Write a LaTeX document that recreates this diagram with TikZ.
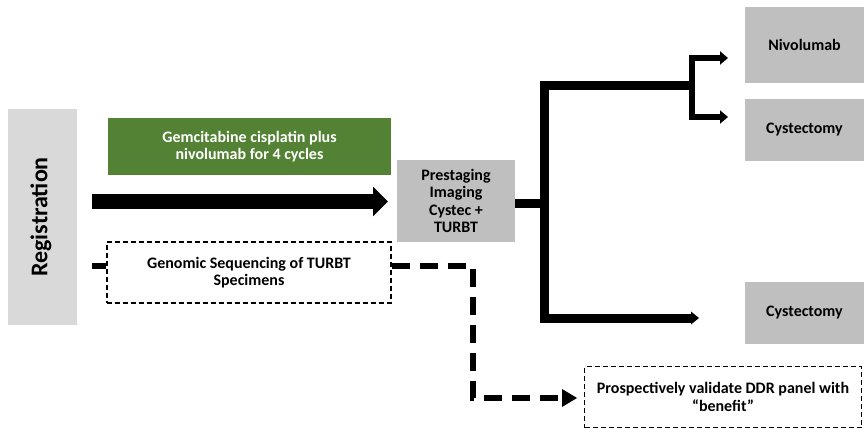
\documentclass[tikz,border=0pt]{standalone}
\usepackage{fontspec}
\setmainfont{Carlito}
\usetikzlibrary{arrows.meta}
\definecolor{regGray}{HTML}{D9D9D9}
\definecolor{boxGray}{HTML}{BFBFBF}
\definecolor{armGreen}{HTML}{548235}
\begin{document}
\begin{tikzpicture}[x=1pt,y=-1pt,
  txt/.style={font=\fontsize{16}{17.5}\selectfont\bfseries, align=center, inner sep=0pt},
  graybox/.style={txt, fill=boxGray, draw=none},
  dashbox/.style={txt, draw=black, line width=1.3pt, dash pattern=on 5pt off 3pt},
  thickline/.style={line width=9pt, line join=miter, line cap=butt},
  forkline/.style={line width=6.5pt, line join=miter, line cap=butt},
  dashedthick/.style={line width=6pt, dash pattern=on 18pt off 10pt, line cap=butt}
]
\useasboundingbox (0,0) rectangle (864,430);
% boxes
\node[txt, fill=regGray, minimum width=69pt, minimum height=216pt] (reg) at (42.5,217) {};
\node[txt, rotate=90, font=\fontsize{24}{26}\selectfont\bfseries] (regtxt) at (41,217) {Registration};
\node[txt, fill=armGreen, text=white, minimum width=283pt, minimum height=57pt] (green) at (249.5,146.5) {Gemcitabine cisplatin plus\\nivolumab for 4 cycles};
\node[graybox, minimum width=118pt, minimum height=82pt] (pre) at (456,201) {Prestaging\\Imaging\\Cystec +\\TURBT};
\node[dashbox, minimum width=284pt, minimum height=61pt] (gen) at (249,272.5) {Genomic Sequencing of TURBT\\Specimens};
\node[graybox, minimum width=119pt, minimum height=76pt] (nivo) at (804.5,45) {Nivolumab};
\node[graybox, minimum width=119pt, minimum height=62pt] (cyst1) at (804.5,130) {Cystectomy};
\node[graybox, minimum width=119pt, minimum height=62pt] (cyst2) at (804.5,313) {Cystectomy};
\node[dashbox, minimum width=277pt, minimum height=61pt] (pros) at (723,397) {Prospectively validate DDR panel with\\``benefit''};
% coordinates
\coordinate (mainstart) at (92,201.5);
\coordinate (mainend) at (388,201.5);
\coordinate (trunk) at (544,204);
\coordinate (trunktop) at (544,86);
\coordinate (trunkbot) at (544,318);
\coordinate (forkmid) at (692,86);
\coordinate (forktop) at (692,58);
\coordinate (forkbot) at (692,117);
\coordinate (nivoin) at (728,58);
\coordinate (cyst1in) at (728,117);
\coordinate (cyst2in) at (699,318);
\coordinate (dstart) at (92,266);
\coordinate (dcorner1) at (473,266);
\coordinate (dcorner2) at (473,398);
% main arrow
\draw[line width=15pt, -{Triangle[length=15pt,width=29pt]}] (mainstart) -- (mainend);
% branching
\draw[thickline] (pre.east |- trunk) -- (trunk);
\draw[thickline] (forkmid) -- (trunktop) -- (trunkbot) -- ([xshift=-6pt]cyst2in);
\fill (691,311.5) -- (cyst2in) -- (691,324.5) -- cycle;
\draw[forkline, {Triangle[length=8pt,width=13pt]}-{Triangle[length=8pt,width=13pt]}] (nivoin) -- (forktop) -- (forkbot) -- (cyst1in);
% dashed path
\draw[dashedthick] (dstart) -- (gen.west |- dstart);
\draw[dashedthick] (gen.east |- dcorner1) -- (dcorner1) -- (dcorner2) -- ([xshift=-14pt]dcorner2 -| pros.west);
\fill (562,389) -- (577,398) -- (562,407) -- cycle;
\end{tikzpicture}
\end{document}
